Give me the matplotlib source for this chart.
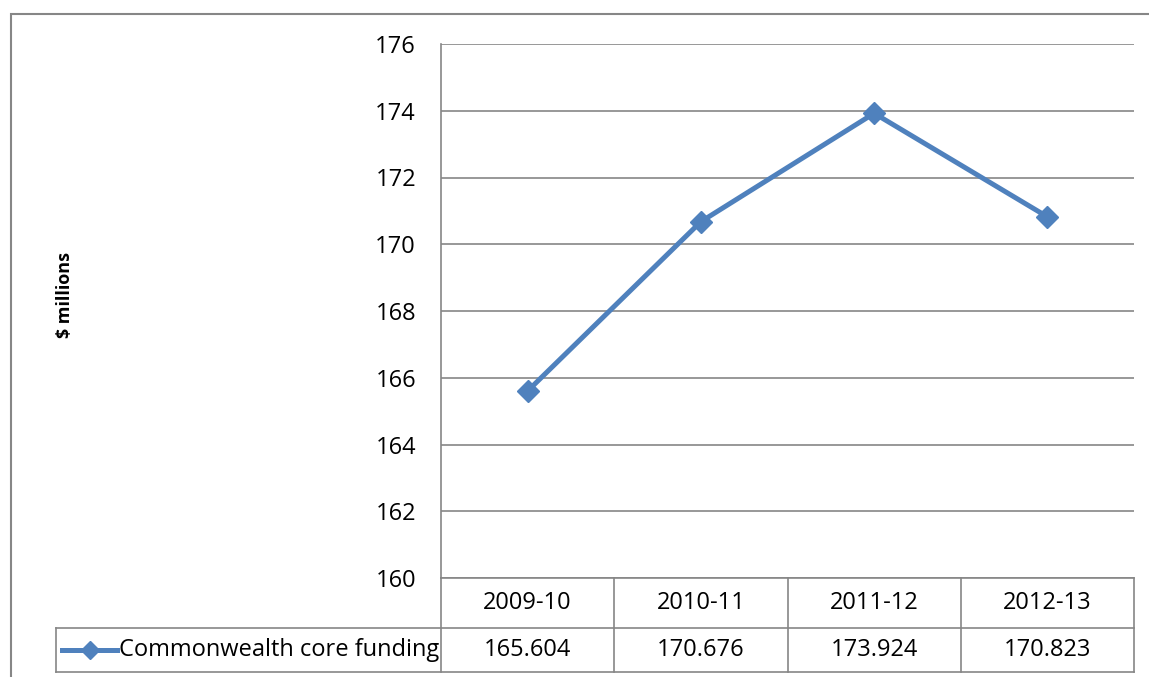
import matplotlib
matplotlib.use("Agg")
import matplotlib.pyplot as plt
from matplotlib.patches import Rectangle
from matplotlib.lines import Line2D

years = ["2009-10", "2010-11", "2011-12", "2012-13"]
funding = [165.604, 170.676, 173.924, 170.823]
series_name = "Commonwealth core funding"
yticks = [160, 162, 164, 166, 168, 170, 172, 174, 176]

blue = "#4F81BD"
grey = "#868686"
plt.rcParams["font.family"] = ["Open Sans", "DejaVu Sans"]

W, H = 1149, 677
fig = plt.figure(figsize=(W / 100, H / 100), dpi=100)
ax = fig.add_axes([441 / W, 1 - 578 / H, (1134 - 441) / W, (578 - 44) / H])

x = list(range(len(years)))
ax.plot(x, funding, color=blue, lw=3.6, marker="D", ms=11,
        markerfacecolor=blue, markeredgecolor=blue, zorder=3)

ax.set_xlim(-0.5, len(years) - 0.5)
ax.set_ylim(160, 176)
ax.set_yticks(yticks)
ax.set_xticks([])
ax.tick_params(axis="y", length=0, pad=18, labelsize=17)
ax.grid(axis="y", color=grey, lw=1.2)
for s in ["top", "right", "bottom"]:
    ax.spines[s].set_visible(False)
ax.spines["left"].set_color(grey)
ax.spines["left"].set_linewidth(1.2)

ax.set_ylabel("$ millions", fontsize=13, fontweight="bold")
ax.yaxis.set_label_coords((74 - 441) / 693, 0.53)

# data table below the plot (axes-fraction y, data x)
trans = ax.get_xaxis_transform()
px = 693 / len(years)
y_top, y_mid, y_bot = 0.0, -50 / 534, -94 / 534
x_left_leg = -0.5 - (441 - 56) / px
x_right = len(years) - 0.5
lk = dict(color=grey, lw=1.2, transform=trans, clip_on=False)
ax.add_line(Line2D([-0.5, x_right], [y_top, y_top], **lk))
ax.add_line(Line2D([x_left_leg, x_right], [y_mid, y_mid], **lk))
ax.add_line(Line2D([x_left_leg, x_right], [y_bot, y_bot], **lk))
ax.add_line(Line2D([x_left_leg, x_left_leg], [y_mid, y_bot], **lk))
for i in range(len(years) + 1):
    ax.add_line(Line2D([i - 0.5, i - 0.5], [y_top, y_bot], **lk))

for i, (yr, v) in enumerate(zip(years, funding)):
    ax.text(i, (y_top + y_mid) / 2, yr, transform=trans, ha="center",
            va="center", fontsize=17)
    ax.text(i, (y_mid + y_bot) / 2, f"{v:.3f}", transform=trans,
            ha="center", va="center", fontsize=17)

# legend key in the table
yk = (y_mid + y_bot) / 2
ax.add_line(Line2D([x_left_leg + 6 / px, x_left_leg + 61 / px], [yk, yk],
                   color=blue, lw=3.6, transform=trans, clip_on=False))
ax.add_line(Line2D([x_left_leg + 34 / px], [yk], color=blue, marker="D",
                   ms=9.5, transform=trans, clip_on=False))
ax.text(x_left_leg + 63 / px, yk, series_name, transform=trans, ha="left",
        va="center", fontsize=17)

# outer chart frame
fig.patches.append(Rectangle((11 / W, -0.2), 1.2, 1.2 - 14 / H,
                             transform=fig.transFigure, fill=False,
                             edgecolor=grey, lw=1.5))

fig.savefig("out.png", dpi=100)
